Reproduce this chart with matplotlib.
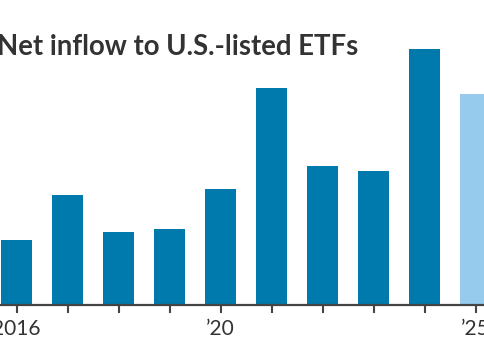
import matplotlib
matplotlib.use("Agg")
import matplotlib.pyplot as plt

years = [2016, 2017, 2018, 2019, 2020, 2021, 2022, 2023, 2024, 2025]
inflows = [277, 471, 312, 325, 497, 931, 596, 574, 1100, 905]  # $ billions (approx.)
tick_labels = ["2016", "", "", "", "\u201920", "", "", "", "", "\u201925"]
title = "Net inflow to U.S.-listed ETFs"

dark = "#0079ad"
light = "#97cbee"
colors = [dark] * 9 + [light]

W, H = 485, 360
fig = plt.figure(figsize=(W / 100, H / 100), dpi=100)
base_px = 304.5
ax = fig.add_axes([0, (H - base_px) / H, 1, base_px / H])

ax.bar(years, inflows, width=0.61, color=colors, zorder=2)

px_per_year = 51.0
first_px = 16.7
ax.set_xlim(years[0] - first_px / px_per_year, years[0] + (W - first_px) / px_per_year)
ax.set_ylim(0, base_px * 4.3)

for s in ["top", "right", "left"]:
    ax.spines[s].set_visible(False)
ax.spines["bottom"].set_color("#444444")
ax.spines["bottom"].set_linewidth(1.6)
ax.set_yticks([])
ax.set_xticks(years)
ax.set_xticklabels(tick_labels, fontfamily="Lato", fontsize=15, color="#333333")
ax.tick_params(axis="x", length=5.5, width=1.5, color="#444444", pad=5)

fig.text(-3 / W, (H - 55) / H, title, fontfamily="Lato", fontweight="bold",
         fontsize=19.8, color="#333333", va="baseline", ha="left")

fig.savefig("out.png", dpi=100)
